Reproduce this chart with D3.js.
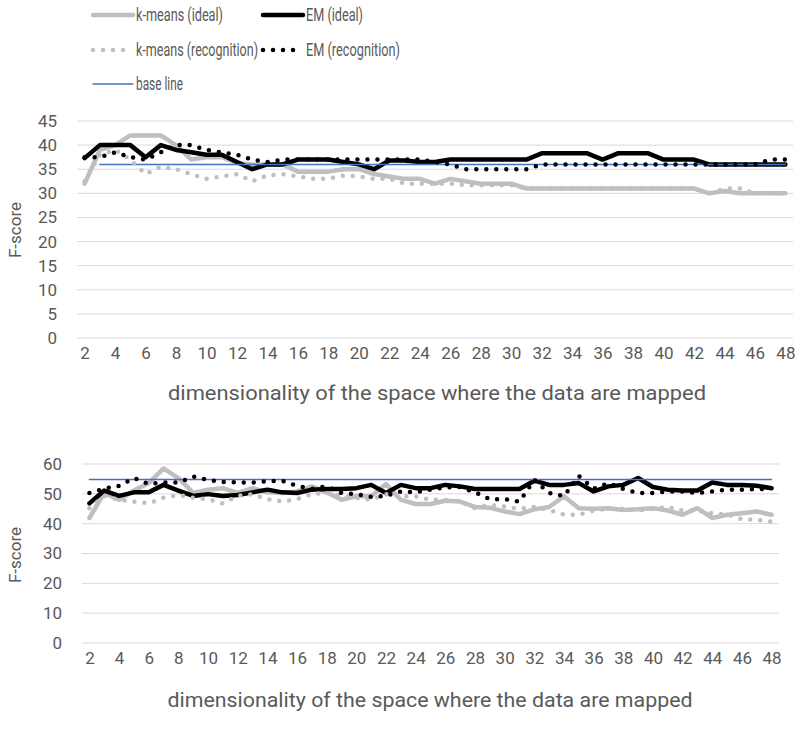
<!DOCTYPE html>
<html lang="en">
<head>
<meta charset="UTF-8">
<title>F-score vs dimensionality</title>
<style>
  body { margin: 0; background: #fff; }
  svg text { font-family: Roboto, "Liberation Sans", sans-serif; fill: #595959; }
</style>
</head>
<body>
<svg id="chart" width="801" height="733"></svg>
<script src="https://d3js.org/d3.v7.min.js"></script>
<script>
// categories (dimensionality)
const dims = [2,3,4,5,6,7,8,9,10,11,12,13,14,15,16,17,18,19,20,21,22,23,24,25,
  26,27,28,29,30,31,32,33,34,35,36,37,38,39,40,41,42,43,44,45,46,47,48];
const xTickLabels = [2,4,6,8,10,12,14,16,18,20,22,24,26,28,30,32,34,36,38,40,42,44,46,48];
const topYTicks = [0,5,10,15,20,25,30,35,40,45];
const bottomYTicks = [0,10,20,30,40,50,60];

// upper chart
const kmIdealTop = [32,39,40,42,42,42,40,37,37.5,37.5,36.3,36,36,36,34.5,34.5,34.5,35,35,34,33.5,33,33,32,
  33,32.5,32,32,32,31,31,31,31,31,31,31,31,31,31,31,31,30,30.5,30,30,30,30];
const emIdealTop = [37.3,40,40,40,37.5,40,39,38.5,38,38,36.5,35,36,36,37,37,37,36.5,36,35,36.8,36.8,36.5,36.5,
  37,37,37,37,37,37,38.3,38.3,38.3,38.3,37,38.3,38.3,38.3,37,37,37,36,36,36,36,36,36];
const kmRecTop = [32.5,38,39,37,34,35.5,35,34,33,33.5,34,32.5,33.7,34,33.5,33,33,33.7,33.5,33,33,32,32,32,
  32,31.7,31.7,31.7,31.7,31,31,31,31,31,31,31,31,31,31,31,31,30,31,31,30,30,30];
const emRecTop = [37.5,37.5,38.5,37.5,37,38.5,40,40,39,38.5,38,37,36.5,37,37,37,37,37,37,37,37,37,37,36.5,
  36,35,35,35,35,35,36,36,36,36,36,36,36,36,36,36,36,36,36,36,36,37,37];
const baseTop = [null,36,36,36,36,36,36,36,36,36,36,36,36,36,36,36,36,36,36,36,36,36,36,36,
  36,36,36,36,36,36,36,36,36,36,36,36,36,36,36,36,36,36,36,36,36,36,36];

// lower chart
const kmIdealBottom = [41.9,50.3,48.0,51.1,53.6,58.5,55.3,50.3,51.4,51.9,50.3,51.9,50.5,50.3,50.8,52.5,50.5,48.0,49.2,49.2,53.3,48.0,46.6,46.6,
  47.7,47.4,45.6,45.3,44.1,43.2,44.8,45.6,49.2,45.2,45.0,45.2,44.6,44.8,45.2,44.4,43.0,45.2,41.9,43.0,43.5,44.1,43.0];
const emIdealBottom = [46.8,51.1,49.3,50.5,50.5,53.0,51.1,49.3,49.9,49.3,49.6,50.5,51.4,50.5,50.3,51.4,51.6,51.6,51.9,53.0,50.3,53.0,51.9,51.9,
  53.0,52.5,51.6,51.6,51.6,51.6,54.4,53.0,53.0,53.6,50.8,52.5,53.0,55.3,52.3,51.4,51.1,51.1,53.8,53.0,53.0,52.7,51.9];
const kmRecBottom = [45.2,49.3,48.0,47.4,46.8,48.7,49.6,48.7,48.2,46.8,49.3,49.9,48.2,47.4,48.2,49.9,50.3,49.3,48.7,48.0,49.9,49.2,49.2,48.0,
  48.0,47.4,45.2,46.3,45.7,45.0,45.6,44.6,43.0,43.0,44.4,45.0,45.0,44.4,45.0,45.6,44.4,44.4,43.5,43.1,41.5,41.3,40.7];
const emRecBottom = [50.3,51.7,52.7,55.3,53.3,53.8,53.8,55.8,54.7,54.0,53.8,53.8,54.2,54.4,52.7,51.7,52.5,50.3,49.9,49.0,49.3,50.8,50.5,51.4,
  52.2,52.3,50.5,48.2,48.2,47.4,54.7,50.3,49.2,56.0,51.7,53.6,51.6,50.3,50.3,50.8,50.8,50.3,50.8,51.4,51.4,51.6,51.6];
const baseBottom = [54.8,54.8,54.8,54.8,54.8,54.8,54.8,54.8,54.8,54.8,54.8,54.8,54.8,54.8,54.8,54.8,54.8,54.8,54.8,54.8,54.8,54.8,54.8,54.8,
  54.8,54.8,54.8,54.8,54.8,54.8,54.8,54.8,54.8,54.8,54.8,54.8,54.8,54.8,54.8,54.8,54.8,54.8,54.8,54.8,54.8,54.8,54.8];

const legendNames = ["k-means (ideal)", "EM (ideal)", "k-means (recognition)", "EM (recognition)", "base line"];

// styles, same order as legendNames
const styles = [
  { color: "#bfbfbf", width: 4.5, dash: null },
  { color: "#000000", width: 4.5, dash: null },
  { color: "#bfbfbf", width: 4.5, dash: "0,10" },
  { color: "#000000", width: 4.5, dash: "0,10" },
  { color: "#4472c4", width: 1.5, dash: null }
];

const svg = d3.select("#chart");

function styleLine(sel, st) {
  sel.attr("fill", "none")
    .attr("stroke", st.color)
    .attr("stroke-width", st.width)
    .attr("stroke-linecap", "round")
    .attr("stroke-linejoin", "round");
  if (st.dash) sel.attr("stroke-dasharray", st.dash);
}

function drawChart(cfg) {
  const x = d3.scalePoint().domain(dims).range([cfg.left, cfg.right]).padding(0.5);
  const y = d3.scaleLinear().domain([0, cfg.max]).range([cfg.bottom, cfg.top]);

  // gridlines
  svg.append("g").selectAll("line").data(cfg.yTicks).join("line")
    .attr("x1", cfg.left).attr("x2", cfg.right)
    .attr("y1", d => y(d)).attr("y2", d => y(d))
    .attr("stroke", "#d9d9d9").attr("stroke-width", 1);

  const yAxis = svg.append("g")
    .attr("transform", "translate(" + cfg.left + ",0)")
    .call(d3.axisLeft(y).tickValues(cfg.yTicks).tickSize(0).tickPadding(20));
  yAxis.select(".domain").remove();
  yAxis.selectAll("text").style("font-size", "17px");

  const xAxis = svg.append("g")
    .attr("transform", "translate(0," + cfg.bottom + ")")
    .call(d3.axisBottom(x).tickValues(xTickLabels).tickSize(0).tickPadding(9));
  xAxis.select(".domain").remove();
  xAxis.selectAll("text").style("font-size", "17px");

  svg.append("text")
    .attr("transform", "translate(21," + cfg.yTitle + ") rotate(-90)")
    .attr("text-anchor", "middle")
    .style("font-size", "17px")
    .text("F-score");

  svg.append("text")
    .attr("x", cfg.titleX)
    .attr("y", cfg.xTitle)
    .attr("text-anchor", "middle")
    .attr("textLength", cfg.titleLen)
    .attr("lengthAdjust", "spacingAndGlyphs")
    .style("font-size", "20px")
    .text("dimensionality of the space where the data are mapped");

  const line = d3.line()
    .defined(d => d.v != null)
    .x(d => x(d.c))
    .y(d => y(d.v));

  // draw order: ideal lines, base line, then recognition dots
  [0, 1, 4, 2, 3].forEach(i => {
    const pts = dims.map((c, j) => ({ c: c, v: cfg.series[i][j] }));
    svg.append("path").datum(pts).attr("d", line).call(styleLine, styles[i]);
  });
}

drawChart({
  left: 77, right: 793, top: 121, bottom: 338, max: 45,
  yTicks: topYTicks, yTitle: 230, xTitle: 400, titleX: 437, titleLen: 538,
  series: [kmIdealTop, emIdealTop, kmRecTop, emRecTop, baseTop]
});

drawChart({
  left: 82, right: 779, top: 464, bottom: 643, max: 60,
  yTicks: bottomYTicks, yTitle: 555, xTitle: 707, titleX: 430, titleLen: 525,
  series: [kmIdealBottom, emIdealBottom, kmRecBottom, emRecBottom, baseBottom]
});

// legend
const legendPos = [
  { x: 93, y: 15, w: 87 }, { x: 263, y: 15, w: 57 },
  { x: 93, y: 50, w: 122 }, { x: 263, y: 50, w: 94 },
  { x: 93, y: 84, w: 47 }
];
legendNames.forEach((name, i) => {
  const p = legendPos[i];
  svg.append("line")
    .attr("x1", p.x).attr("x2", p.x + 40)
    .attr("y1", p.y).attr("y2", p.y)
    .call(styleLine, styles[i]);
  svg.append("text")
    .attr("x", p.x + 43).attr("y", p.y)
    .attr("dy", "0.35em")
    .attr("textLength", p.w)
    .attr("lengthAdjust", "spacingAndGlyphs")
    .style("font-size", "18px")
    .text(name);
});
</script>
</body>
</html>
